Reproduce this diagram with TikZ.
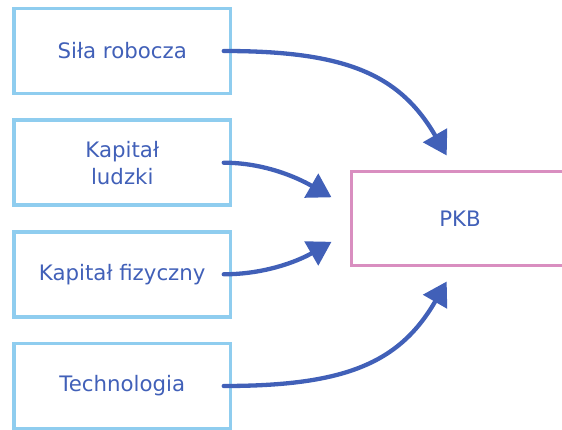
\documentclass[tikz,border=0pt]{standalone}
\usepackage{fontspec}
\setmainfont{DejaVu Sans}
\usetikzlibrary{arrows.meta,calc}
\definecolor{txtblue}{HTML}{4160B8}
\definecolor{boxblue}{HTML}{8FCDEF}
\definecolor{pinkc}{HTML}{D98EC0}
\begin{document}
\begin{tikzpicture}[x=1pt,y=-1pt,
  inbox/.style={draw=boxblue,line width=3.5pt,minimum width=216.5pt,minimum height=85pt,inner sep=0pt,text=txtblue,font=\fontsize{21.3}{27}\selectfont,align=center},
  outbox/.style={draw=pinkc,line width=3pt,minimum width=216.6pt,minimum height=93.6pt,inner sep=0pt,text=txtblue,font=\fontsize{21.3}{27}\selectfont,align=center},
  flow/.style={draw=txtblue,line width=4.3pt,line cap=round,-{Triangle[length=23.4pt,width=27pt]}}]
\useasboundingbox (0,0) rectangle (562,430);
\begin{scope}
\clip (0,0) rectangle (562,430);
\node[inbox] (b1) at (122.25,51) {Siła robocza};
\node[inbox] (b2) at (122.25,162.7) {Kapitał\\ludzki};
\node[inbox] (b3) at (122.25,274.3) {Kapitał fizyczny};
\node[inbox] (b4) at (122.25,386) {Technologia};
\node[outbox] (pkb) at (460,218.5) {PKB};
\coordinate (s1) at ([xshift=-8.5pt]b1.east);
\coordinate (s2) at ([xshift=-8.5pt]b2.east);
\coordinate (s3) at ([xshift=-8.5pt]b3.east);
\coordinate (s4) at ([xshift=-8.5pt]b4.east);
\coordinate (t1) at ([xshift=-13.3pt,yshift=14.7pt]pkb.north);
\coordinate (t2) at ([xshift=-18.7pt,yshift=21.2pt]pkb.west);
\coordinate (t3) at ([xshift=-18.7pt,yshift=-23.3pt]pkb.west);
\coordinate (t4) at ([xshift=-13.3pt,yshift=-14.7pt]pkb.south);
\draw[flow] (s1) .. controls ($(s1)+(120,0)$) and ($(t1)+(-47.5,-82.3)$) .. (t1);
\draw[flow] (s2) .. controls ($(s2)+(40,0)$) and ($(t2)+(-34.6,-20)$) .. (t2);
\draw[flow] (s3) .. controls ($(s3)+(40,0)$) and ($(t3)+(-34.6,20)$) .. (t3);
\draw[flow] (s4) .. controls ($(s4)+(120,0)$) and ($(t4)+(-47.5,82.3)$) .. (t4);
\end{scope}
\end{tikzpicture}
\end{document}
